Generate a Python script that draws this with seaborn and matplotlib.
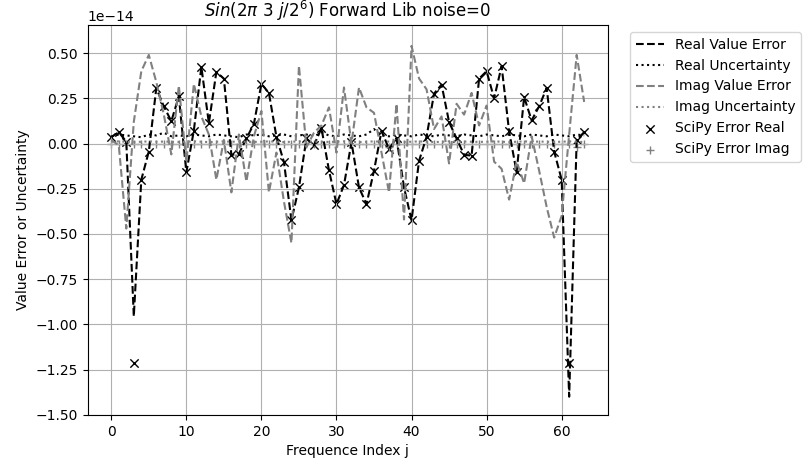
import numpy as np
import seaborn as sns
from matplotlib import pyplot as plt

# values are in units of 1e-14
j = list(range(64))

real_err = [0.035, 0.063, 0.01, -0.955, -0.20, -0.044, 0.307, 0.205, 0.124, 0.261,
            -0.159, 0.072, 0.424, 0.113, 0.396, 0.359, -0.063, -0.057, 0.028, 0.109,
            0.33, 0.28, 0.037, -0.102, -0.424, -0.243, 0.028, -0.01, 0.085, -0.148,
            -0.335, -0.23, 0.007, -0.243, -0.335, -0.15, 0.07, -0.03, 0.03, -0.243,
            -0.424, -0.096, 0.037, 0.276, 0.326, 0.119, 0.028, -0.062, -0.067, 0.359,
            0.40, 0.25, 0.428, 0.067, -0.159, 0.257, 0.128, 0.206, 0.307, -0.044,
            -0.20, -1.40, 0.02, 0.063]

real_unc = [0.04, 0.05, 0.045, 0.04, 0.035, 0.05, 0.045, 0.06, 0.04, 0.045,
            0.04, 0.05, 0.045, 0.04, 0.05, 0.045, 0.04, 0.035, 0.05, 0.045,
            0.05, 0.04, 0.045, 0.05, 0.04, 0.045, 0.05, 0.04, 0.06, 0.045,
            0.04, 0.05, 0.045, 0.04, 0.05, 0.08, 0.045, 0.04, 0.05, 0.045,
            0.04, 0.05, 0.045, 0.04, 0.05, 0.045, 0.04, 0.05, 0.045, 0.04,
            0.05, 0.045, 0.04, 0.05, 0.045, 0.04, 0.05, 0.045, 0.04, 0.05,
            0.045, 0.04, 0.05, 0.045]

imag_err = [0.02, -0.01, -0.47, 0.12, 0.40, 0.49, 0.34, 0.16, -0.06, 0.32,
            -0.10, 0.33, 0.15, 0.05, -0.20, 0.02, -0.27, 0.05, -0.21, 0.04,
            0.18, -0.27, -0.05, -0.32, -0.55, 0.43, -0.02, 0.06, 0.10, 0.20,
            -0.05, 0.31, 0.00, 0.31, 0.20, 0.17, -0.05, -0.27, 0.22, -0.42,
            0.54, 0.36, 0.30, 0.08, 0.15, -0.11, 0.22, 0.16, 0.28, 0.10,
            0.21, -0.10, -0.14, -0.31, -0.10, -0.22, 0.04, -0.15, -0.35, -0.52,
            -0.40, 0.05, 0.49, 0.23]

imag_unc = [0.01, 0.012, 0.01, 0.008, 0.01, 0.012, 0.01, 0.011, 0.01, 0.009,
            0.01, 0.012, 0.01, 0.008, 0.01, 0.012, 0.01, 0.011, 0.01, 0.009,
            0.01, 0.012, 0.01, 0.008, 0.01, 0.012, 0.01, 0.011, 0.01, 0.009,
            0.01, 0.012, 0.01, 0.008, 0.01, 0.012, 0.01, 0.011, 0.01, 0.009,
            0.01, 0.012, 0.01, 0.008, 0.01, 0.012, 0.01, 0.011, 0.01, 0.009,
            0.01, 0.012, 0.01, 0.008, 0.01, 0.012, 0.01, 0.011, 0.01, 0.009,
            0.01, 0.012, 0.01, 0.008]

scipy_real = [0.035, 0.063, 0.01, -1.215, -0.20, -0.044, 0.307, 0.205, 0.124, 0.261,
              -0.159, 0.072, 0.424, 0.113, 0.396, 0.359, -0.063, -0.057, 0.028, 0.109,
              0.33, 0.28, 0.037, -0.102, -0.424, -0.243, 0.028, -0.01, 0.085, -0.148,
              -0.335, -0.23, 0.007, -0.243, -0.335, -0.15, 0.07, -0.03, 0.03, -0.243,
              -0.424, -0.096, 0.037, 0.276, 0.326, 0.119, 0.028, -0.062, -0.067, 0.359,
              0.40, 0.25, 0.428, 0.067, -0.159, 0.257, 0.128, 0.206, 0.307, -0.044,
              -0.20, -1.215, 0.02, 0.063]

scipy_imag = [0.0, 0.0, 0.0, 0.0, 0.0, 0.0, 0.0, 0.0, 0.0, 0.0,
              0.0, 0.0, 0.0, 0.0, 0.0, 0.0, 0.0, 0.0, 0.0, 0.0,
              0.0, 0.0, 0.0, 0.0, 0.0, 0.0, 0.0, 0.0, 0.0, 0.0,
              0.0, 0.0, 0.0, 0.0, 0.0, 0.0, 0.0, -0.02, 0.0, 0.0,
              0.0, 0.0, 0.0, 0.0, 0.0, 0.0, 0.0, 0.0, 0.0, 0.0,
              0.0, 0.0, 0.0, 0.0, 0.0, 0.0, 0.0, 0.0, 0.0, 0.0,
              0.0, 0.0, -0.02, 0.0]

scale = 1e-14


def s(v):
    return np.array(v) * scale


fig, ax = plt.subplots(figsize=(8.04, 4.65), dpi=100)
fig.subplots_adjust(left=0.109, right=0.756, top=0.946, bottom=0.108)

sns.lineplot(x=j, y=s(real_err), color='black', linestyle='--', label='Real Value Error', ax=ax)
sns.lineplot(x=j, y=s(real_unc), color='black', linestyle=':', label='Real Uncertainty', ax=ax)
sns.lineplot(x=j, y=s(imag_err), color='gray', linestyle='--', label='Imag Value Error', ax=ax)
sns.lineplot(x=j, y=s(imag_unc), color='gray', linestyle=':', label='Imag Uncertainty', ax=ax)
sns.scatterplot(x=j, y=s(scipy_real), color='black', marker='x', s=36, linewidth=1,
                label='SciPy Error Real', ax=ax)
sns.scatterplot(x=j, y=s(scipy_imag), color='gray', marker='+', s=36, linewidth=1,
                label='SciPy Error Imag', ax=ax)

ax.set_ylim(-1.5e-14, 0.655e-14)
ax.set_yticks(np.arange(-1.5, 0.51, 0.25) * scale)
ax.grid(True)
ax.set_title(r'$Sin(2\pi\ 3\ j/2^{6})$ Forward Lib noise=0')
ax.set_xlabel('Frequence Index j')
ax.set_ylabel('Value Error or Uncertainty')
ax.legend(bbox_to_anchor=(1.03, 1), loc='upper left')

plt.savefig('out.png')
